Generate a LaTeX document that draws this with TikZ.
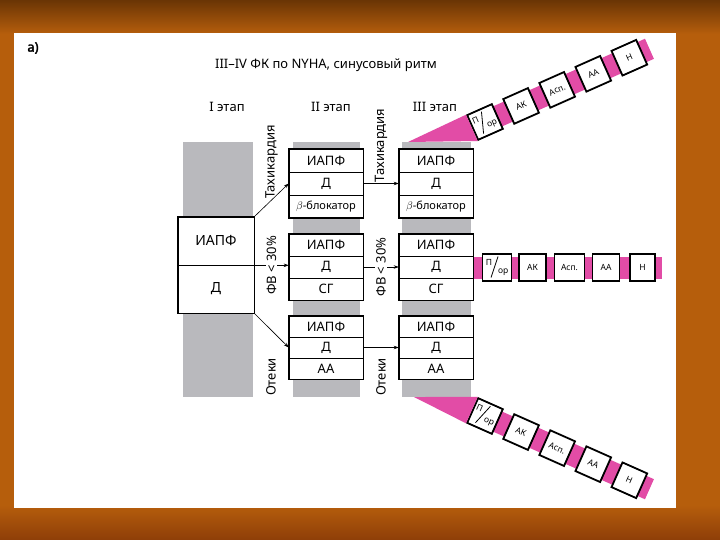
\documentclass[tikz,border=0pt]{standalone}
\usepackage{fontspec}
\setmainfont{Noto Sans}
\newfontfamily\tagfont{Noto Sans}[FakeBold=2.5]
\usepackage{tikz}
\usetikzlibrary{arrows.meta, positioning}
\definecolor{slidebrown}{HTML}{6A3505}
\definecolor{slideorange}{HTML}{B65E0C}
\definecolor{slidebottom}{HTML}{8E3E08}
\definecolor{bargrey}{HTML}{B9B9BD}
\definecolor{chainpink}{HTML}{E24CA6}
\newcommand{\poral}{\raisebox{4pt}{П}\hspace{6pt}\raisebox{-4pt}{ор}}
\tikzset{
  cell/.style={draw, line width=0.6pt, fill=white, inner sep=0pt, minimum width=74pt, font=\fontsize{13}{13}\selectfont},
  boxframe/.style={line width=1.6pt},
  link/.style={-{Stealth[length=5pt, width=3.5pt]}, line width=0.6pt},
  lbl/.style={font=\fontsize{13}{13}\selectfont, inner sep=1pt},
  drug/.style={draw, line width=1.8pt, fill=white, minimum width=27pt, minimum height=27pt, inner sep=0pt, font=\fontsize{8.5}{8.5}\selectfont},
  pinkband/.style={fill=chainpink},
  slash/.style={line width=0.8pt},
}

\begin{document}
\begin{tikzpicture}[x=1pt, y=-1pt]
    \useasboundingbox (0,0) rectangle (720,540);
    % slide
    \shade[top color=slidebrown, bottom color=slideorange] (0,0) rectangle (720,34);
    \fill[slideorange] (0,34) rectangle (720,505);
    \shade[top color=slideorange, bottom color=slidebottom] (0,505) rectangle (720,540);
    \fill[white] (14,33) rectangle (676,508);

    % headings
    \node[font=\tagfont\fontsize{13}{13}\selectfont] (tag) at (33,48) {а)};
    \node[lbl] (title) at (326,65) {III–IV ФК по NYHA, синусовый ритм};
    \node[lbl] (st1) at (227,107) {I этап};
    \node[lbl] (st2) at (331,107) {II этап};
    \node[lbl] (st3) at (435,107) {III этап};

    % grey columns
    \fill[bargrey] (183,142) rectangle (253,397);
    \fill[bargrey] (293,142) rectangle (360,397);
    \fill[bargrey] (402,142) rectangle (471,397);

    % stage I
    \node[cell, minimum width=76pt, minimum height=48pt, font=\fontsize{14}{14}\selectfont] (i1) at (216,241) {ИАПФ};
    \node[cell, minimum width=76pt, minimum height=48pt, font=\fontsize{14}{14}\selectfont] (i2) at (216,289) {Д};
    \draw[boxframe] (i1.north west) rectangle (i2.south east);

    % stage II
    \node[cell, minimum height=23pt] (t2i) at (326,160.5) {ИАПФ};
    \node[cell, minimum height=23pt] (t2d) at (326,183.5) {Д};
    \node[cell, minimum height=23pt, font=\fontsize{11}{11}\selectfont] (t2b) at (326,206.5) {$\beta$-блокатор};
    \node[cell, minimum height=22pt] (m2i) at (326,245) {ИАПФ};
    \node[cell, minimum height=22pt] (m2d) at (326,267) {Д};
    \node[cell, minimum height=22pt] (m2s) at (326,289) {СГ};
    \node[cell, minimum height=21pt] (b2i) at (326,326.5) {ИАПФ};
    \node[cell, minimum height=21pt] (b2d) at (326,347.5) {Д};
    \node[cell, minimum height=21pt] (b2a) at (326,368.5) {АА};
    \draw[boxframe] (t2i.north west) rectangle (t2b.south east);
    \draw[boxframe] (m2i.north west) rectangle (m2s.south east);
    \draw[boxframe] (b2i.north west) rectangle (b2a.south east);

    % stage III
    \node[cell, minimum height=23pt] (t3i) at (436,160.5) {ИАПФ};
    \node[cell, minimum height=23pt] (t3d) at (436,183.5) {Д};
    \node[cell, minimum height=23pt, font=\fontsize{11}{11}\selectfont] (t3b) at (436,206.5) {$\beta$-блокатор};
    \node[cell, minimum height=22pt] (m3i) at (436,245) {ИАПФ};
    \node[cell, minimum height=22pt] (m3d) at (436,267) {Д};
    \node[cell, minimum height=22pt] (m3s) at (436,289) {СГ};
    \node[cell, minimum height=21pt] (b3i) at (436,326.5) {ИАПФ};
    \node[cell, minimum height=21pt] (b3d) at (436,347.5) {Д};
    \node[cell, minimum height=21pt] (b3a) at (436,368.5) {АА};
    \draw[boxframe] (t3i.north west) rectangle (t3b.south east);
    \draw[boxframe] (m3i.north west) rectangle (m3s.south east);
    \draw[boxframe] (b3i.north west) rectangle (b3a.south east);

    % transitions
    \draw[link] (i1.north east) to node[lbl, rotate=90, anchor=west] (tx1) {Тахикардия} (t2d.west);
    \draw[link] (i1.south east) -- (i1.south east -| m2d.west) node[midway, lbl, rotate=90, fill=white] (ef1) {ФВ < 30\%};
    \draw[link] (i2.south east) -- (b2d.west);
    \node[lbl, rotate=90] (ed1) at (271,377) {Отеки};
    \draw[link] (t2d.east) -- (t3d.west) node[midway, lbl, rotate=90, anchor=west] (tx2) {Тахикардия};
    \draw[link] (m2d.east) -- (m3d.west) node[midway, lbl, rotate=90, fill=white] (ef2) {ФВ < 30\%};
    \draw[link] (b2d.east) -- (b3d.west);
    \node[lbl, rotate=90] (ed2) at (381,377) {Отеки};

    % upper chain
    \begin{scope}[shift={(485,122)}, rotate=24]
        \fill[pinkband] (0,-11) rectangle (180,11);
        \node[drug, transform shape] (up1) at (0,0) {\poral};
        \draw[slash] (-6,10) -- (1,-11);
        \node[drug, transform shape] (up2) at (39.5,0) {АК};
        \node[drug, transform shape] (up3) at (79,0) {Асп.};
        \node[drug, transform shape] (up4) at (118.5,0) {АА};
        \node[drug, transform shape] (up5) at (158,0) {Н};
    \end{scope}
    \fill[pinkband] (408,142) -- (up1.north west) -- (up1.south west) -- cycle;

    % middle chain
    \begin{scope}[shift={(497,267.5)}]
        \fill[pinkband] (-23,-11) rectangle (165,11);
        \node[drug, minimum width=29pt] (md1) at (0,0) {\poral};
        \draw[slash] (-6,10) -- (1,-11);
        \node[drug] (md2) at (35.5,0) {АК};
        \node[drug, minimum width=30pt] (md3) at (72.5,0) {Асп.};
        \node[drug] (md4) at (109,0) {АА};
        \node[drug, minimum width=25pt] (md5) at (145.5,0) {Н};
    \end{scope}

    % lower chain
    \begin{scope}[shift={(485,416)}, rotate=-24]
        \fill[pinkband] (0,-11) rectangle (180,11);
        \node[drug, transform shape] (lo1) at (0,0) {\poral};
        \draw[slash] (-6,10) -- (1,-11);
        \node[drug, transform shape] (lo2) at (39.5,0) {АК};
        \node[drug, transform shape] (lo3) at (79,0) {Асп.};
        \node[drug, transform shape] (lo4) at (118.5,0) {АА};
        \node[drug, transform shape] (lo5) at (158,0) {Н};
    \end{scope}
    \fill[pinkband] (414,397) -- (lo1.south west) -- (lo1.north west) -- cycle;
\end{tikzpicture}
\end{document}
